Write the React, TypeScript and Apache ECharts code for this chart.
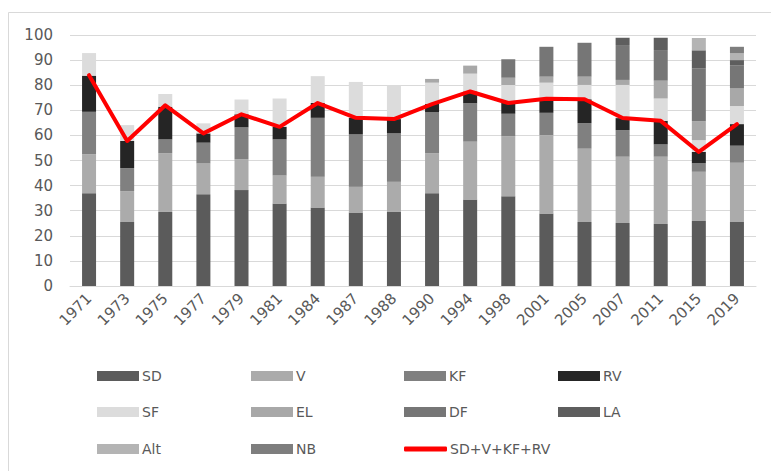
import React, { useEffect, useRef } from "react";
import * as echarts from "echarts";

const years = ["1971","1973","1975","1977","1979","1981","1984","1987","1988","1990","1994","1998","2001","2005","2007","2011","2015","2019"];

const SD = [37.0, 25.5, 29.5, 36.6, 38.2, 32.9, 31.3, 29.3, 29.5, 37.0, 34.5, 35.8, 28.9, 25.5, 25.1, 24.7, 25.9, 25.5];
const V = [15.5, 12.3, 23.4, 12.2, 12.3, 11.1, 12.2, 10.2, 12.0, 15.9, 23.0, 23.9, 31.2, 29.2, 26.4, 26.8, 19.6, 23.6];
const KF = [16.9, 9.2, 5.5, 8.3, 12.7, 14.4, 23.5, 20.9, 19.3, 16.3, 15.3, 8.9, 8.9, 10.2, 10.6, 4.9, 3.4, 6.8];
const RV = [14.4, 10.8, 13.0, 3.7, 5.2, 5.0, 5.9, 6.6, 5.7, 3.3, 4.7, 4.3, 5.6, 9.5, 4.8, 9.4, 4.5, 8.6];
const SF = [9.0, 6.3, 5.1, 4.0, 5.9, 11.3, 10.7, 14.3, 13.4, 8.5, 7.1, 7.2, 6.4, 5.7, 13.2, 8.9, 4.7, 7.2];
const EL = [0, 0, 0, 0, 0, 0, 0, 0, 0, 1.5, 3.2, 2.9, 2.4, 3.3, 2.0, 7.1, 7.6, 7.0];
const DF = [0, 0, 0, 0, 0, 0, 0, 0, 0, 0, 0, 7.3, 11.9, 13.5, 13.9, 12.2, 20.9, 9.1];
const LA = [0, 0, 0, 0, 0, 0, 0, 0, 0, 0, 0, 0, 0, 0, 2.9, 4.9, 7.3, 2.2];
const Alt = [0, 0, 0, 0, 0, 0, 0, 0, 0, 0, 0, 0, 0, 0, 0, 0, 4.9, 2.7];
const NB = [0, 0, 0, 0, 0, 0, 0, 0, 0, 0, 0, 0, 0, 0, 0, 0, 0, 2.6];
const sumLine = [84.0, 57.8, 72.0, 60.8, 68.4, 63.4, 72.9, 67.0, 66.5, 72.5, 77.5, 72.9, 74.6, 74.4, 66.9, 65.8, 53.4, 64.5];

const yTicks = [0, 10, 20, 30, 40, 50, 60, 70, 80, 90, 100];

const barSeries: [string, number[], string][] = [
  ["SD", SD, "#5b5b5b"],
  ["V", V, "#ababab"],
  ["KF", KF, "#808080"],
  ["RV", RV, "#252525"],
  ["SF", SF, "#dcdcdc"],
  ["EL", EL, "#a8a8a8"],
  ["DF", DF, "#767676"],
  ["LA", LA, "#5e5e5e"],
  ["Alt", Alt, "#b4b4b4"],
  ["NB", NB, "#7e7e7e"],
];
const lineName = "SD+V+KF+RV";

const legendCols = [97, 251, 404, 558];
const legendRows = [376, 412, 449];
const legendOrder = ["SD", "V", "KF", "RV", "SF", "EL", "DF", "LA", "Alt", "NB", lineName];

export default function App() {
  const ref = useRef<HTMLDivElement>(null);
  useEffect(() => {
    if (!ref.current) return;
    const chart = echarts.init(ref.current, undefined, { renderer: "svg" });
    const font = "'DejaVu Sans', sans-serif";
    const textColor = "#595959";
    const legends = legendOrder.map((name, i) => {
      const base: any = {
        left: legendCols[i % 4],
        top: legendRows[Math.floor(i / 4)] - 8,
        padding: 0,
        itemGap: 0,
        selectedMode: false,
        textStyle: { color: textColor, fontSize: 14, fontFamily: font, lineHeight: 16, padding: [0, 0, 0, -2] },
      };
      if (name === lineName) {
        base.data = [{ name, icon: "roundRect", itemStyle: { color: "#ff0000" } }];
        base.itemWidth = 43;
        base.itemHeight = 5;
      } else {
        base.data = [{ name, icon: "rect" }];
        base.itemWidth = 42;
        base.itemHeight = 10;
      }
      return base;
    });
    chart.setOption({
      animation: false,
      backgroundColor: "#ffffff",
      legend: legends,
      graphic: [
        {
          type: "rect",
          shape: { x: 8.5, y: 12.5, width: 780, height: 480 },
          style: { fill: "none", stroke: "#d9d9d9", lineWidth: 1 },
          silent: true,
        },
      ],
      grid: { left: 70, right: 15, top: 35, bottom: 185 },
      xAxis: {
        type: "category",
        data: years,
        axisLine: { lineStyle: { color: "#d9d9d9", width: 1 } },
        axisTick: { show: false },
        axisLabel: { rotate: 45, color: textColor, fontSize: 15, fontFamily: font, margin: 10, interval: 0 },
      },
      yAxis: {
        type: "value",
        min: yTicks[0],
        max: yTicks[yTicks.length - 1],
        interval: 10,
        axisLine: { show: false },
        axisTick: { show: false },
        splitLine: { lineStyle: { color: "#d9d9d9", width: 1 } },
        axisLabel: { color: textColor, fontSize: 15, fontFamily: font, margin: 17 },
      },
      series: [
        ...barSeries.map(([name, data, color]) => ({
          name,
          type: "bar",
          stack: "total",
          data,
          barWidth: 14,
          itemStyle: { color },
        })),
        {
          name: lineName,
          type: "line",
          data: sumLine,
          symbol: "none",
          lineStyle: { color: "#ff0000", width: 4, cap: "round", join: "round" },
          itemStyle: { color: "#ff0000" },
          z: 5,
        },
      ],
    });
    return () => chart.dispose();
  }, []);
  return (
    <div
      ref={ref}
      style={{ position: "fixed", left: 0, top: 0, width: 771, height: 471, background: "#fff" }}
    />
  );
}
